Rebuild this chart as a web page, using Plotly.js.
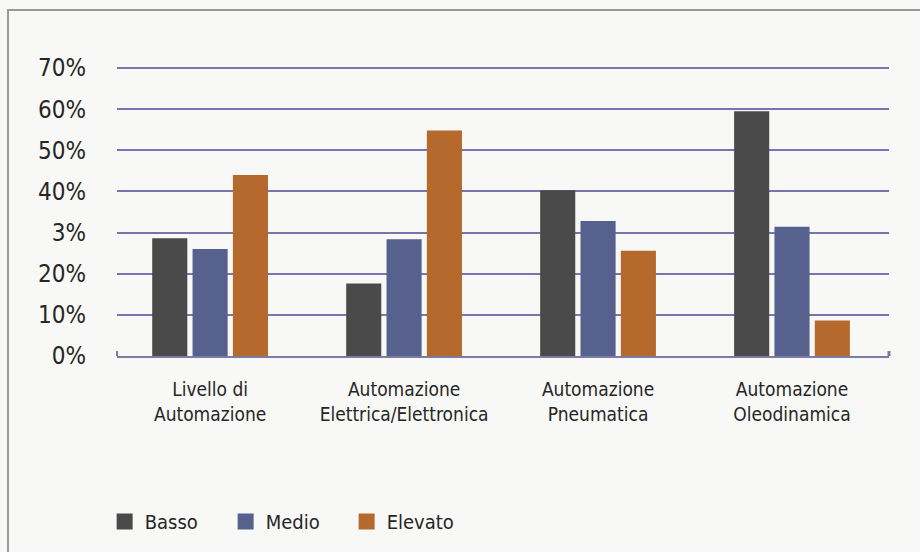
<!DOCTYPE html>
<html>
<head>
<meta charset="utf-8">
<script src="https://cdn.plot.ly/plotly-3.0.1.min.js"></script>
<style>
  html, body { margin: 0; padding: 0; background: #f8f8f6; }
  #wrap { position: relative; width: 920px; height: 552px; }
  #chart { width: 920px; height: 552px; }
  #frame { position: absolute; left: 7px; top: 9px; width: 920px; height: 560px;
           border-left: 2px solid #9a9a9a; border-top: 2px solid #9a9a9a; pointer-events: none; }
</style>
</head>
<body>
<div id="wrap">
  <div id="chart"></div>
  <div id="frame"></div>
</div>
<script>
const categories = ["Livello di<br>Automazione", "Automazione<br>Elettrica/Elettronica", "Automazione<br>Pneumatica", "Automazione<br>Oleodinamica"];
const seriesNames = ["Basso", "Medio", "Elevato"];
const basso   = [28.6, 17.6, 40.3, 59.5];
const medio   = [26.0, 28.4, 32.8, 31.4];
const elevato = [44.0, 54.8, 25.6, 8.6];
const yTickVals = [0, 10, 20, 30, 40, 50, 60, 70];
const yTickText = ["0%", "10%", "20%", "3%", "40%", "50%", "60%", "70%"];

const FONT = "'DejaVu Sans Condensed', 'Liberation Sans Narrow', 'Liberation Sans', sans-serif";
const TXT = "#262626";
const colors = ["#4a4a4a", "#56618e", "#b5692c"];
const values = [basso, medio, elevato];

const traces = [];
values.forEach((v, i) => {
  traces.push({ type: "bar", name: seriesNames[i], x: categories, y: v,
                marker: { color: colors[i] }, showlegend: false });
});
// legend proxies (square swatches)
values.forEach((v, i) => {
  traces.push({ type: "scatter", mode: "markers", name: seriesNames[i], x: [null], y: [null],
                marker: { symbol: "square", size: 16, color: colors[i] }, showlegend: true });
});

const layout = {
  width: 920, height: 552,
  margin: { l: 117, r: 31, t: 66, b: 195 },
  paper_bgcolor: "#f8f8f6",
  plot_bgcolor: "rgba(0,0,0,0)",
  barmode: "group",
  bargap: 0.376,
  bargroupgap: 0.13,
  font: { family: FONT, color: TXT, size: 20 },
  xaxis: {
    type: "category",
    range: [-0.48, 3.5],
    showgrid: false,
    showline: true, linecolor: "#7b7ba6", linewidth: 2,
    ticks: "", tickfont: { family: FONT, size: 19, color: TXT },
    ticklabelstandoff: 15,
    fixedrange: true
  },
  yaxis: {
    range: [0, 70.5],
    tickmode: "array", tickvals: yTickVals, ticktext: yTickText,
    showgrid: true, gridcolor: "#7676ae", gridwidth: 2,
    zeroline: false, showline: false, ticks: "",
    tickfont: { family: FONT, size: 24, color: TXT },
    ticklabelstandoff: 30,
    fixedrange: true
  },
  showlegend: true,
  legend: {
    orientation: "h", x: -0.016, xanchor: "left", y: -0.565, yanchor: "middle",
    font: { family: FONT, size: 20, color: TXT },
    bgcolor: "rgba(0,0,0,0)", itemwidth: 30, traceorder: "normal",
    entrywidth: 76, entrywidthmode: "pixels"
  },
  shapes: [
    { type: "line", xref: "paper", yref: "y", x0: 0, x1: 0, y0: -1.2, y1: 1.2, line: { color: "#7b7ba6", width: 2 } },
    { type: "line", xref: "paper", yref: "y", x0: 1, x1: 1, y0: -1.2, y1: 1.2, line: { color: "#7b7ba6", width: 3 } }
  ]
};

Plotly.newPlot("chart", traces, layout, { displayModeBar: false, staticPlot: true });
</script>
</body>
</html>
